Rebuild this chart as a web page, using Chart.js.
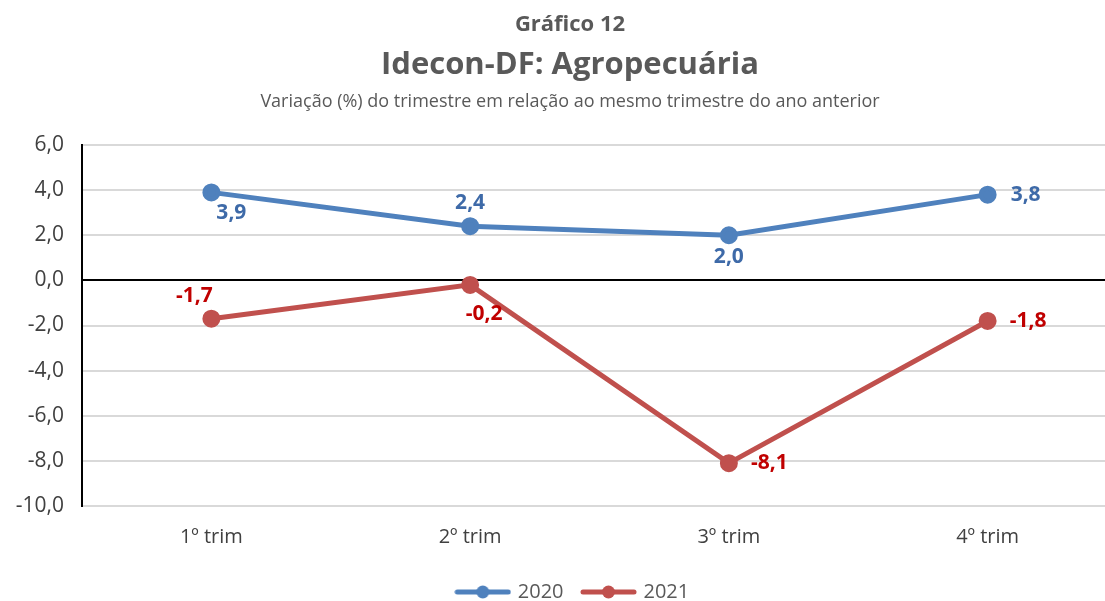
<!DOCTYPE html>
<html lang="pt-BR">
<head>
<meta charset="utf-8">
<script src="https://cdn.jsdelivr.net/npm/chart.js@4/dist/chart.umd.min.js"></script>
<style>
    html, body { margin: 0; padding: 0; background: #fff; overflow: hidden; }
    #wrap { position: absolute; left: 0; top: 0; width: 1140px; height: 614px; }
    .t { position: absolute; left: 0; width: 1140px; text-align: center; color: #595959; font-family: "Open Sans", sans-serif; white-space: nowrap; line-height: 1.3; }
    #t1 { top: 8px; font-size: 22px; font-weight: bold; }
    #t2 { top: 42px; font-size: 31px; font-weight: bold; }
    #t3 { top: 89px; font-size: 18px; }
</style>
</head>
<body>
<div id="wrap">
    <canvas id="chart"></canvas>
    <div class="t" id="t1">Gráfico 12</div>
    <div class="t" id="t2">Idecon-DF: Agropecuária</div>
    <div class="t" id="t3">Variação (%) do trimestre em relação ao mesmo trimestre do ano anterior</div>
</div>
<script>
// dados
const categorias = ['1º trim', '2º trim', '3º trim', '4º trim'];
const valores2020 = [3.9, 2.4, 2.0, 3.8];
const valores2021 = [-1.7, -0.2, -8.1, -1.8];
const yMin = -10;
const yMax = 6;
const yStep = 2;

// posição dos rótulos [dx, dy, alinhamento]
const rotulos2020 = [[20, 21, 'center'], [0, -23, 'center'], [0, 22, 'center'], [23, 0, 'left']];
const rotulos2021 = [[-17, -23, 'center'], [14, 29, 'center'], [22, 0, 'left'], [22, 0, 'left']];

const azul = '#4F81BD';
const vermelho = '#C0504D';
const fonte = '"Open Sans", sans-serif';

const fmt = (v) => v.toFixed(1).replace('.', ',');

// marcador da legenda: linha com círculo
const makeMarker = (color) => {
    let c = document.createElement('canvas');
    c.width = 57;
    c.height = 14;
    let ctx = c.getContext('2d');
    ctx.strokeStyle = color;
    ctx.lineWidth = 5;
    ctx.lineCap = 'round';
    ctx.beginPath();
    ctx.moveTo(3, 7);
    ctx.lineTo(54, 7);
    ctx.stroke();
    ctx.fillStyle = color;
    ctx.beginPath();
    ctx.arc(28.5, 7, 6.5, 0, Math.PI * 2);
    ctx.fill();
    return c;
}

const rotuloPlugin = {
    id: 'rotulos',
    afterLayout(chart) {
        // legenda centralizada na largura total do gráfico
        chart.legend.left += 30;
    },
    afterDatasetsDraw(chart) {
        let ctx = chart.ctx;
        chart.data.datasets.forEach((ds, di) => {
            let meta = chart.getDatasetMeta(di);
            meta.data.forEach((pt, i) => {
                let [dx, dy, align] = ds.rotulos[i];
                ctx.save();
                ctx.font = 'bold 21px ' + fonte;
                ctx.fillStyle = ds.corRotulo;
                ctx.textAlign = align;
                ctx.textBaseline = 'middle';
                ctx.fillText(fmt(ds.data[i]), pt.x + dx, pt.y + dy);
                ctx.restore();
            });
        });
    }
}

let el = document.querySelector('#chart');
new Chart(el, {
    type: 'line',
    data: {
        labels: categorias,
        datasets: [
            {
                label: '2020',
                data: valores2020,
                borderColor: azul,
                backgroundColor: azul,
                borderWidth: 5,
                pointRadius: 6.5,
                pointHoverRadius: 6.5,
                rotulos: rotulos2020,
                corRotulo: '#3E6AA8',
                marcador: makeMarker(azul)
            },
            {
                label: '2021',
                data: valores2021,
                borderColor: vermelho,
                backgroundColor: vermelho,
                borderWidth: 5,
                pointRadius: 6.5,
                pointHoverRadius: 6.5,
                rotulos: rotulos2021,
                corRotulo: '#C00000',
                marcador: makeMarker(vermelho)
            }
        ]
    },
    options: {
        responsive: true,
        maintainAspectRatio: false,
        animation: false,
        layout: { padding: { top: 145, right: 23, bottom: 2, left: 0 } },
        scales: {
            x: {
                offset: true,
                grid: { display: false, drawTicks: false },
                border: { display: false },
                ticks: { color: '#404040', font: { family: fonte, size: 20 }, padding: 19 },
                afterFit(scale) { scale.height = 56; }
            },
            y: {
                min: yMin,
                max: yMax,
                ticks: {
                    stepSize: yStep,
                    color: '#404040',
                    font: { family: fonte, size: 21 },
                    padding: 18,
                    callback: (v) => fmt(v)
                },
                grid: {
                    drawTicks: false,
                    color: (c) => c.tick && c.tick.value === 0 ? '#000' : '#D9D9D9',
                    lineWidth: 2
                },
                border: { color: '#000', width: 2 },
                afterFit(scale) { scale.width = 82; }
            }
        },
        plugins: {
            legend: {
                position: 'bottom',
                labels: {
                    usePointStyle: true,
                    pointStyleWidth: 50,
                    color: '#595959',
                    font: { family: fonte, size: 20 },
                    padding: 20,
                    generateLabels(chart) {
                        return chart.data.datasets.map((ds, i) => ({
                            text: ds.label,
                            pointStyle: ds.marcador,
                            fillStyle: ds.borderColor,
                            strokeStyle: ds.borderColor,
                            fontColor: '#595959',
                            lineWidth: 0,
                            hidden: false,
                            datasetIndex: i
                        }));
                    }
                }
            },
            tooltip: { enabled: false }
        }
    },
    plugins: [rotuloPlugin]
});
</script>
</body>
</html>
